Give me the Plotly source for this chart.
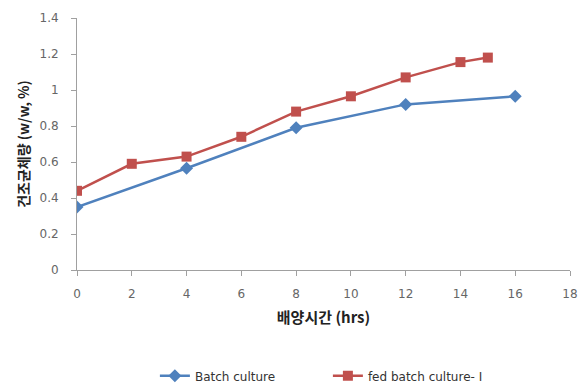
import plotly.graph_objects as go

batch_x = [0, 4, 8, 12, 16]
batch_y = [0.35, 0.565, 0.79, 0.92, 0.965]
fed_x = [0, 2, 4, 6, 8, 10, 12, 14, 15]
fed_y = [0.44, 0.59, 0.63, 0.74, 0.88, 0.965, 1.07, 1.155, 1.18]

x_ticks = [0, 2, 4, 6, 8, 10, 12, 14, 16, 18]
y_ticks = [0, 0.2, 0.4, 0.6, 0.8, 1.0, 1.2, 1.4]
y_tick_text = ["0", "0.2", "0.4", "0.6", "0.8", "1", "1.2", "1.4"]

fig = go.Figure()
fig.add_trace(go.Scatter(
    x=batch_x, y=batch_y, mode="lines+markers", name="Batch culture",
    line=dict(color="#4f81bd", width=2.5),
    marker=dict(symbol="diamond", size=10, color="#4f81bd"),
))
fig.add_trace(go.Scatter(
    x=fed_x, y=fed_y, mode="lines+markers", name="fed batch culture- Ⅰ",
    line=dict(color="#c0504d", width=2.5),
    marker=dict(symbol="square", size=10, color="#c0504d"),
))

axis_common = dict(
    showline=True, linecolor="#a0a0a0", linewidth=1,
    ticks="outside", tickcolor="#a0a0a0", ticklen=5,
    showgrid=False, zeroline=False, automargin=False,
    tickfont=dict(family="DejaVu Sans", size=12, color="#666666"),
)

fig.update_layout(
    width=582, height=384,
    margin=dict(l=77, r=12, t=18, b=114, autoexpand=False),
    paper_bgcolor="white", plot_bgcolor="white",
    font=dict(family="Noto Sans CJK KR", color="#222222"),
    xaxis=dict(range=[0, 18], tickvals=x_ticks, ticklabelstandoff=8,
               title=dict(text="<b>배양시간 (hrs)</b>", font=dict(size=15, family="Noto Sans CJK KR"), standoff=12),
               **axis_common),
    yaxis=dict(range=[0, 1.4], tickvals=y_ticks, ticktext=y_tick_text, ticklabelstandoff=10,
               title=dict(text="<b>건조균체량 (w/w, %)</b>", font=dict(size=14, family="Noto Sans CJK KR"), standoff=6),
               **axis_common),
    legend=dict(orientation="h", x=0.158, xanchor="left", y=-0.42, yanchor="middle",
                font=dict(family="DejaVu Sans", size=12, color="#333333"),
                entrywidth=128, tracegroupgap=0),
    showlegend=True,
)

fig.write_html("out.html")
